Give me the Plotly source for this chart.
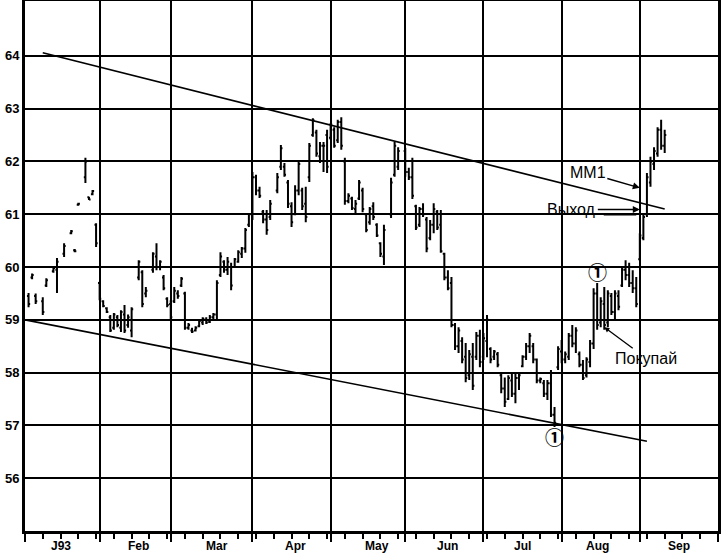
import plotly.graph_objects as go

# ---------------- data (daily bars, 1993) ----------------
dates = [
    "1993-01-04","1993-01-05","1993-01-06","1993-01-08","1993-01-11","1993-01-13","1993-01-14",
    "1993-01-18","1993-01-20","1993-01-21","1993-01-22","1993-01-26","1993-01-27","1993-01-28","1993-01-29",
    "1993-02-01","1993-02-02","1993-02-03","1993-02-04","1993-02-05","1993-02-08","1993-02-09","1993-02-10",
    "1993-02-11","1993-02-12","1993-02-16","1993-02-17","1993-02-18","1993-02-22","1993-02-23","1993-02-24",
    "1993-02-25","1993-02-26",
    "1993-03-01","1993-03-02","1993-03-03","1993-03-04","1993-03-05","1993-03-08","1993-03-09","1993-03-10",
    "1993-03-11","1993-03-12","1993-03-15","1993-03-16","1993-03-17","1993-03-18","1993-03-19","1993-03-22",
    "1993-03-23","1993-03-24","1993-03-25","1993-03-26","1993-03-29","1993-03-30","1993-03-31",
    "1993-04-01","1993-04-02","1993-04-05","1993-04-06","1993-04-07","1993-04-08","1993-04-12","1993-04-13",
    "1993-04-14","1993-04-15","1993-04-16","1993-04-19","1993-04-20","1993-04-21","1993-04-22","1993-04-23",
    "1993-04-26","1993-04-27","1993-04-28","1993-04-29","1993-04-30",
    "1993-05-03","1993-05-04","1993-05-05","1993-05-06","1993-05-07","1993-05-10","1993-05-11","1993-05-12",
    "1993-05-13","1993-05-14","1993-05-17","1993-05-18","1993-05-19","1993-05-20","1993-05-21","1993-05-24",
    "1993-05-26","1993-05-27","1993-05-28",
    "1993-06-01","1993-06-02","1993-06-03","1993-06-04","1993-06-07","1993-06-08","1993-06-09","1993-06-10",
    "1993-06-11","1993-06-14","1993-06-15","1993-06-16","1993-06-17","1993-06-18","1993-06-21","1993-06-22",
    "1993-06-23","1993-06-24","1993-06-25","1993-06-28","1993-06-29","1993-06-30",
    "1993-07-01","1993-07-02","1993-07-05","1993-07-06","1993-07-07","1993-07-08","1993-07-09","1993-07-12",
    "1993-07-13","1993-07-14","1993-07-15","1993-07-16","1993-07-19","1993-07-20","1993-07-21","1993-07-22",
    "1993-07-23","1993-07-26","1993-07-27","1993-07-28","1993-07-29","1993-07-30",
    "1993-08-02","1993-08-03","1993-08-04","1993-08-05","1993-08-06","1993-08-09","1993-08-10","1993-08-11",
    "1993-08-12","1993-08-13","1993-08-16","1993-08-17","1993-08-18","1993-08-19","1993-08-20","1993-08-23",
    "1993-08-24","1993-08-25","1993-08-26","1993-08-27","1993-08-30","1993-08-31",
    "1993-09-01","1993-09-02","1993-09-03","1993-09-06","1993-09-07","1993-09-08","1993-09-09","1993-09-10",
]
open_ = [
    59.45,59.80,59.45,59.35,59.65,59.92,59.95,60.25,60.64,60.32,61.18,61.70,61.32,61.38,60.80,
    59.70,59.35,59.22,59.05,58.85,59.05,58.85,59.10,58.90,58.80,59.80,59.90,59.50,59.95,60.20,60.00,59.80,59.40,
    59.30,59.35,59.50,59.65,59.50,58.85,58.80,58.80,58.88,58.95,59.00,58.96,59.05,59.10,59.85,60.10,59.95,60.00,60.00,60.10,60.25,60.35,60.80,
    61.00,61.70,61.45,61.05,60.90,60.95,61.45,61.90,61.90,61.60,61.15,61.00,61.45,61.45,61.20,61.70,62.50,62.55,62.10,62.30,62.50,
    62.45,62.60,62.40,62.75,62.00,61.25,61.30,61.10,61.30,61.45,61.00,60.85,61.15,60.80,60.45,60.20,61.00,61.75,61.90,
    62.20,61.80,61.70,61.15,60.80,61.10,60.90,60.55,60.80,61.05,60.80,60.25,59.80,59.70,58.90,58.50,58.60,58.30,57.95,58.30,58.30,58.70,
    58.30,58.60,58.45,58.30,58.35,57.95,57.70,57.50,57.85,57.60,57.90,58.12,58.30,58.50,58.50,58.25,57.85,57.80,57.60,57.80,57.20,58.10,
    58.40,58.25,58.30,58.70,58.55,58.35,58.15,57.95,58.20,58.55,59.50,58.95,59.30,58.95,59.45,59.15,59.45,59.65,59.95,59.85,59.70,59.60,
    60.15,60.55,61.00,61.60,61.95,62.15,62.60,62.30,
]
high = [
    59.51,59.88,59.50,59.43,59.79,60.00,60.17,60.45,60.70,60.34,61.22,62.07,61.33,61.46,60.83,
    59.72,59.37,59.24,59.09,59.13,59.09,59.18,59.28,59.10,59.24,60.13,59.94,59.62,60.28,60.45,60.13,59.85,59.43,
    59.37,59.62,59.56,59.81,59.53,58.94,58.85,58.88,59.00,59.05,59.05,59.09,59.13,59.75,60.28,60.13,60.19,60.08,60.17,60.32,60.38,60.74,61.02,
    61.80,61.75,61.52,61.08,61.08,61.27,61.78,62.31,61.97,61.65,61.23,61.55,62.03,61.50,61.52,62.35,62.82,62.60,62.37,62.37,62.60,
    62.73,62.65,62.79,62.84,62.07,61.40,61.33,61.27,61.65,61.50,61.02,61.14,61.23,60.83,60.47,60.80,61.69,62.37,62.27,
    62.26,61.88,62.07,61.18,61.14,61.21,60.95,60.89,61.21,61.08,61.08,60.27,59.94,59.81,58.94,58.86,58.67,58.56,58.43,58.56,58.77,58.81,
    58.75,59.09,58.48,58.43,58.39,58.01,57.91,57.95,57.99,57.99,58.01,58.33,58.56,58.75,58.56,58.27,57.91,57.86,57.86,58.05,57.35,58.50,
    58.62,58.40,58.75,58.90,58.86,58.40,58.24,58.29,58.62,59.60,59.70,59.43,59.62,59.56,59.51,59.56,59.56,60.00,60.13,60.08,59.94,59.81,
    60.64,61.02,61.78,62.09,62.27,62.65,62.79,62.60,
]
low = [
    59.24,59.77,59.30,59.09,59.62,59.89,59.51,60.19,60.62,60.28,61.16,61.59,61.27,61.36,60.38,
    59.37,59.24,59.13,58.77,58.81,58.86,58.77,58.75,58.85,58.67,59.75,59.24,59.43,59.89,59.94,59.94,59.56,59.24,
    59.00,59.32,59.40,59.62,58.81,58.81,58.75,58.78,58.86,58.90,58.92,58.94,59.00,59.00,59.81,59.89,59.85,59.56,59.98,60.08,60.17,60.27,60.76,
    60.89,61.36,61.31,60.83,60.61,60.89,61.40,61.84,61.71,61.12,60.76,60.98,61.36,61.08,60.85,61.61,62.47,62.09,61.97,61.80,61.78,
    62.41,62.26,62.35,62.22,61.18,61.21,61.08,61.02,61.27,61.04,60.66,60.80,60.89,60.57,60.19,60.04,60.93,61.71,61.84,
    61.71,61.65,61.29,60.70,60.76,60.95,60.28,60.51,60.64,60.70,60.27,59.75,59.56,58.86,58.43,58.37,58.18,57.82,57.86,57.67,58.24,58.10,
    58.24,58.29,58.18,58.24,58.10,57.61,57.35,57.48,57.54,57.42,57.67,58.10,58.24,58.37,58.18,57.80,57.80,57.54,57.48,57.16,56.97,58.05,
    58.18,58.18,58.24,58.48,58.37,58.10,57.86,57.91,58.10,58.45,58.81,58.86,58.81,58.86,59.09,59.00,59.18,59.62,59.75,59.62,59.51,59.24,
    60.13,60.51,60.95,61.52,61.84,62.09,62.22,62.16,
]
close = [
    59.30,59.85,59.35,59.15,59.75,59.98,60.10,60.40,60.68,60.30,61.20,62.00,61.28,61.44,60.45,
    59.40,59.26,59.15,58.80,59.10,58.90,59.15,58.80,59.05,59.20,60.10,59.30,59.55,60.25,60.00,60.10,59.60,59.28,
    59.05,59.55,59.45,59.78,58.85,58.90,58.78,58.85,58.98,59.02,58.95,59.05,59.10,59.70,60.20,59.95,60.10,59.65,60.15,60.28,60.35,60.70,61.00,
    61.70,61.45,61.35,60.90,60.70,61.20,61.70,62.25,61.75,61.20,60.85,61.45,61.95,61.15,60.95,62.30,62.78,62.15,62.30,62.30,61.90,
    62.70,62.30,62.75,62.30,61.25,61.35,61.12,61.20,61.60,61.10,60.70,61.10,60.95,60.60,60.25,60.70,61.60,62.30,62.20,
    61.80,61.70,61.35,60.75,61.10,61.00,60.35,60.80,61.10,60.75,60.30,59.80,59.60,58.90,58.50,58.80,58.25,57.90,58.35,57.75,58.70,58.20,
    58.65,59.00,58.25,58.40,58.15,57.70,57.45,57.90,57.60,57.90,57.95,58.30,58.50,58.70,58.25,57.85,57.88,57.60,57.80,57.20,57.05,58.45,
    58.25,58.35,58.70,58.55,58.80,58.15,57.90,58.25,58.55,59.50,58.90,59.35,58.90,59.50,59.15,59.50,59.25,59.95,59.85,59.70,59.60,59.30,
    60.60,60.95,61.70,62.00,62.20,62.60,62.30,62.50,
]

# trend lines (two points each)
upper_dates = ["1993-01-08", "1993-09-10"]
upper_vals = [64.06, 61.10]
lower_dates = ["1993-01-01", "1993-09-03"]
lower_vals = [59.00, 56.70]

# axis ticks / labels
y_ticks = [56, 57, 58, 59, 60, 61, 62, 63, 64]
month_starts = ["1993-01-01", "1993-02-01", "1993-03-01", "1993-04-01", "1993-05-03",
                "1993-06-01", "1993-07-01", "1993-08-02", "1993-09-01", "1993-10-01"]
month_label_dates = ["1993-01-15", "1993-02-16", "1993-03-18", "1993-04-19", "1993-05-20",
                     "1993-06-17", "1993-07-16", "1993-08-16", "1993-09-16"]
month_labels = ["J93", "Feb", "Mar", "Apr", "May", "Jun", "Jul", "Aug", "Sep"]

FONT = "Liberation Sans, Arial, sans-serif"

fig = go.Figure()
fig.add_trace(go.Ohlc(
    x=dates, open=open_, high=high, low=low, close=close,
    increasing=dict(line=dict(color="black", width=2)),
    decreasing=dict(line=dict(color="black", width=2)),
    tickwidth=0.45, showlegend=False, hoverinfo="skip",
))
fig.add_trace(go.Scatter(x=upper_dates, y=upper_vals, mode="lines",
                         line=dict(color="black", width=1.6), showlegend=False, hoverinfo="skip"))
fig.add_trace(go.Scatter(x=lower_dates, y=lower_vals, mode="lines",
                         line=dict(color="black", width=1.6), showlegend=False, hoverinfo="skip"))

# month labels under the axis
for d, lab in zip(month_label_dates, month_labels):
    fig.add_annotation(x=d, y=0, xref="x", yref="paper", yanchor="middle", yshift=-15,
                       text=lab, showarrow=False,
                       font=dict(family=FONT, size=12, color="black", weight="bold"))

txt_font = dict(family=FONT, size=16, color="black")
# MM1
fig.add_annotation(x="1993-09-01", y=61.50, text="MM1", showarrow=True, ax=-52, ay=-15,
                   arrowhead=2, arrowsize=1, arrowwidth=1.4, arrowcolor="black", font=txt_font)
# Выход (double arrow)
fig.add_annotation(x="1993-09-01", y=61.09, text="Выход", showarrow=True, ax=-68, ay=0,
                   arrowhead=2, arrowsize=1, arrowwidth=1.4, arrowcolor="black", font=txt_font)
fig.add_annotation(x="1993-08-31", y=60.99, text="", showarrow=True, ax=-34, ay=0,
                   arrowhead=0, arrowwidth=1.4, arrowcolor="black")
# Покупай
fig.add_annotation(x="1993-08-18", y=58.86, text="Покупай", showarrow=True, ax=42, ay=31,
                   arrowhead=2, arrowsize=0.8, arrowwidth=1.3, arrowcolor="black", font=txt_font)
# circled 1 markers
circ_font = dict(family="Noto Sans CJK JP, DejaVu Sans", size=19, color="black", weight="bold")
fig.add_annotation(x="1993-08-16", y=59.92, text="①", showarrow=False, font=circ_font)
fig.add_annotation(x="1993-07-29", y=56.79, text="①", showarrow=False, font=circ_font)

fig.update_layout(
    width=723, height=554,
    margin=dict(l=25, r=5, t=1, b=23, autoexpand=False),
    paper_bgcolor="white", plot_bgcolor="white",
    showlegend=False,
    xaxis=dict(
        type="date", automargin=False,
        range=["1993-01-01", "1993-10-01"],
        rangebreaks=[dict(bounds=["sat", "mon"])],
        rangeslider=dict(visible=False),
        tickmode="array", tickvals=month_starts, ticktext=[""] * len(month_starts),
        ticks="outside", ticklen=8, tickwidth=2, tickcolor="black",
        showgrid=True, gridcolor="black", gridwidth=2,
        showline=True, linecolor="black", linewidth=3, mirror=True,
        minor=dict(ticks="outside", ticklen=5, tickwidth=1.5, tickcolor="black",
                   dtick=7 * 86400000, tick0="1993-01-08", showgrid=False),
        zeroline=False,
    ),
    yaxis=dict(
        automargin=False,
        range=[55.0, 65.04],
        tickmode="array", tickvals=y_ticks, ticktext=[str(v) for v in y_ticks],
        ticks="", showgrid=True, gridcolor="black", gridwidth=2,
        showline=True, linecolor="black", linewidth=3, mirror=True,
        tickfont=dict(family=FONT, size=13, color="black", weight="bold"),
        zeroline=False,
    ),
)

fig.write_html(
    "out.html",
    config={"displayModeBar": False},
    post_script="document.body.style.margin='0';document.body.style.overflow='hidden';",
)
